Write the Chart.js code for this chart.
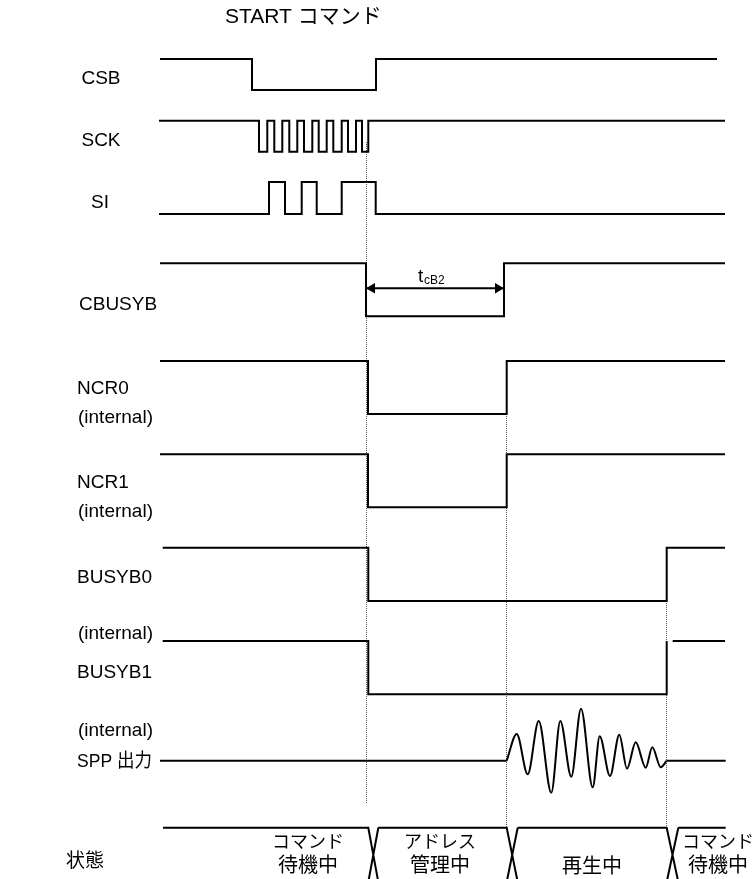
<!DOCTYPE html>
<html>
<head>
<meta charset="utf-8">
<script src="https://cdn.jsdelivr.net/npm/chart.js@4"></script>
<style>
html, body { margin: 0; padding: 0; background: #fff; }
#wrap { width: 756px; height: 879px; position: relative; }
</style>
</head>
<body>
<div id="wrap"><canvas id="timing"></canvas></div>
<script>
// signal edges: time of each edge and the logic level after it (null = gap)
const csbTimes = [160, 252, 376, 717];
const csbLevels = [1, 0, 1, 1];
const sckTimes = [159, 259, 267.3, 274.3, 282.3, 289.3, 297.3, 304, 312.3, 318.7, 326.7, 333.3, 341.7, 348, 356, 362, 368.3, 725];
const sckLevels = [1, 0, 1, 0, 1, 0, 1, 0, 1, 0, 1, 0, 1, 0, 1, 0, 1, 1];
const siTimes = [159, 269, 285, 301.7, 316.7, 341.7, 375.7, 725];
const siLevels = [0, 1, 0, 1, 0, 1, 0, 0];
const cbusybTimes = [160, 366, 504, 725];
const cbusybLevels = [1, 0, 1, 1];
const ncr0Times = [160, 368, 506.7, 725];
const ncr0Levels = [1, 0, 1, 1];
const ncr1Times = [160, 368, 506.7, 725];
const ncr1Levels = [1, 0, 1, 1];
const busyb0Times = [162.7, 368.3, 666.7, 725];
const busyb0Levels = [1, 0, 1, 1];
const busyb1Times = [162.7, 368.3, 666.7, 669, 672.7, 725];
const busyb1Levels = [1, 0, 1, null, 1, 1];

// SPP output: flat baseline, then the burst (amplitude above baseline)
const sppBaseTimes = [160, 506.7, 586, 666.7, 725.7];
const sppBaseLevels = [0, 0, null, 0, 0];
const sppWaveTimes = [506.7, 516.7, 527.7, 538.7, 551.3, 560.3, 571.3, 581, 592.7, 599.7, 610, 619.3, 627, 635.7, 645.7, 652.3, 660.7, 666.7];
const sppWaveValues = [0, 26.7, -13.6, 39.7, -32, 39.7, -16, 52, -26.6, 24.4, -15.3, 26, -8, 18.4, -7, 13.4, -6.6, 0];

// state bus: start, crossings, end
const stateStart = 163;
const stateCross = [[368.3, 378.3], [506.7, 517.7], [666.7, 678.3]];
const stateEnd = 725.7;
const stateNames = [['コマンド', '待機中'], ['アドレス', '管理中'], ['再生中'], ['コマンド', '待機中']];

// tCB2 interval and reference markers
const tcb2From = 366;
const tcb2To = 504;
const markerTimes = [366.5, 506.5, 666.5];

const signalNames = ['CSB', 'SCK', 'SI', 'CBUSYB', 'NCR0', 'NCR1', 'BUSYB0', 'BUSYB1', 'SPP 出力', '状態'];

// ---- layout (pixel rows) ----
const rows = {
    csb: [59, 90], sck: [120.7, 151.7], si: [182, 214], cbusyb: [263.3, 316.3],
    ncr0: [361, 414], ncr1: [454.3, 507.3], busyb0: [547.7, 601], busyb1: [641, 694.3]
};
const sppBase = 760.7;
const busTop = 827.7, busBottom = 882;
const arrowY = 288.3;
const markerRanges = [[142, 803], [414, 828], [601, 828]];

const latin = '"Liberation Sans", Arial, "Noto Sans CJK JP", sans-serif';
const cjk = '"Noto Sans CJK JP", "Liberation Sans", sans-serif';
// x, y, align, max width
const labelPos = [
    [101, 79, 'center'], [101, 141, 'center'], [100, 203, 'center'], [79, 305, 'left'],
    [77, 389, 'left'], [77, 483, 'left'], [77, 578, 'left'], [77, 673, 'left'],
    [77, 762, 'left', 75], [66, 862, 'left']
];
const internalY = [418, 512, 634, 731];
const statePos = [[308, [841, 864]], [440, [841, 864]], [592, [865]], [718, [841, 864]]];

function stepData(times, levels, row) {
    return times.map((t, i) => ({ x: t, y: levels[i] === null ? null : (levels[i] ? row[0] : row[1]) }));
}

function line(data, extra) {
    return Object.assign({
        data: data, borderColor: '#000', borderWidth: 2, pointRadius: 0,
        fill: false, spanGaps: false, tension: 0
    }, extra || {});
}

const datasets = [
    line(stepData(csbTimes, csbLevels, rows.csb), { stepped: 'before' }),
    line(stepData(sckTimes, sckLevels, rows.sck), { stepped: 'before' }),
    line(stepData(siTimes, siLevels, rows.si), { stepped: 'before' }),
    line(stepData(cbusybTimes, cbusybLevels, rows.cbusyb), { stepped: 'before' }),
    line(stepData(ncr0Times, ncr0Levels, rows.ncr0), { stepped: 'before' }),
    line(stepData(ncr1Times, ncr1Levels, rows.ncr1), { stepped: 'before' }),
    line(stepData(busyb0Times, busyb0Levels, rows.busyb0), { stepped: 'before' }),
    line(stepData(busyb1Times, busyb1Levels, rows.busyb1), { stepped: 'before' }),
    line(sppBaseTimes.map((t, i) => ({ x: t, y: sppBaseLevels[i] === null ? null : sppBase }))),
    line(sppWaveTimes.map((t, i) => ({ x: t, y: sppBase - sppWaveValues[i] })), { cubicInterpolationMode: 'monotone' })
];

// state bus top line and crossings
const busData = [{ x: stateStart, y: busTop }];
stateCross.forEach(c => {
    busData.push({ x: c[0], y: busTop }, { x: c[1], y: busBottom }, { x: c[1], y: null },
        { x: c[1], y: busTop }, { x: c[0], y: busBottom }, { x: c[0], y: null },
        { x: c[1], y: busTop });
});
busData.push({ x: stateEnd, y: busTop });
datasets.push(line(busData));

// dotted reference markers
markerTimes.forEach((t, i) => {
    datasets.push(line([{ x: t, y: markerRanges[i][0] }, { x: t, y: markerRanges[i][1] }],
        { borderColor: '#555', borderWidth: 1, borderDash: [1, 1] }));
});

// tCB2 arrow
const headR = 6;
datasets.push(line([{ x: tcb2From, y: arrowY }, { x: tcb2To, y: arrowY }]));
datasets.push(line([{ x: tcb2From + headR, y: arrowY }, { x: tcb2To - headR, y: arrowY }], {
    showLine: false, pointRadius: headR, pointStyle: 'triangle', pointRotation: [270, 90],
    pointBackgroundColor: '#000', pointBorderWidth: 0, borderWidth: 0
}));

const textPlugin = {
    id: 'timingText',
    afterDatasetsDraw(chart) {
        const ctx = chart.ctx;
        ctx.save();
        ctx.fillStyle = '#000';
        ctx.textBaseline = 'middle';

        ctx.font = '21px ' + latin;
        ctx.textAlign = 'left';
        ctx.fillText('START コマンド', 225, 17);

        ctx.font = '19px ' + latin;
        signalNames.forEach((name, i) => {
            const p = labelPos[i];
            ctx.textAlign = p[2];
            if (p[3]) ctx.fillText(name, p[0], p[1], p[3]);
            else ctx.fillText(name, p[0], p[1]);
        });
        ctx.textAlign = 'left';
        internalY.forEach(y => ctx.fillText('(internal)', 78, y));

        // state names: kana lines a bit smaller than kanji lines
        ctx.textAlign = 'center';
        stateNames.forEach((lines, i) => {
            lines.forEach((s, j) => {
                ctx.font = (/[\u3040-\u30ff]/.test(s) ? '18px ' : '20px ') + cjk;
                ctx.fillText(s, statePos[i][0], statePos[i][1][j]);
            });
        });

        // t with subscript cB2
        ctx.textAlign = 'left';
        ctx.textBaseline = 'alphabetic';
        ctx.font = '19px ' + latin;
        ctx.fillText('t', 418, 282);
        ctx.font = '12px ' + latin;
        ctx.fillText('cB2', 424, 284);
        ctx.restore();
    }
};

new Chart(document.getElementById('timing'), {
    type: 'line',
    data: { datasets: datasets },
    options: {
        responsive: true,
        maintainAspectRatio: false,
        animation: false,
        layout: { padding: 0, autoPadding: false },
        plugins: { legend: { display: false }, tooltip: { enabled: false } },
        scales: {
            x: { type: 'linear', min: 0, max: 756, display: false },
            y: { type: 'linear', min: 0, max: 879, reverse: true, display: false }
        }
    },
    plugins: [textPlugin]
});
</script>
</body>
</html>
